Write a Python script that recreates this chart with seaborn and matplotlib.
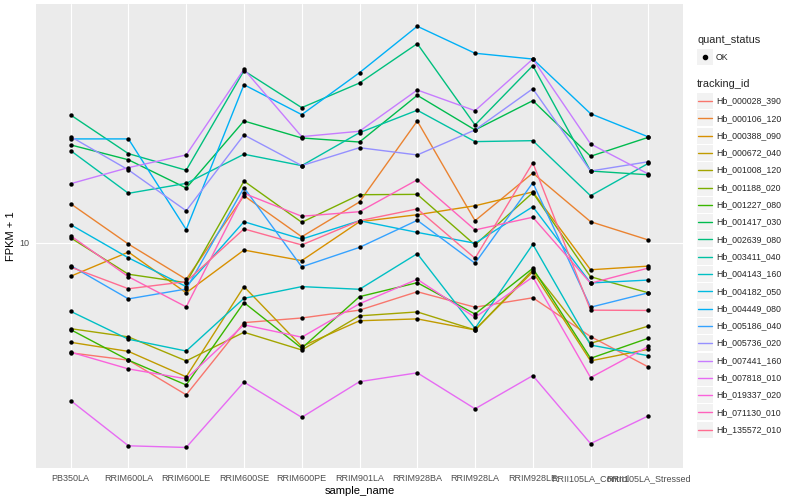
import numpy as np
import pandas as pd
import seaborn as sns
import matplotlib.pyplot as plt
from matplotlib.lines import Line2D
from matplotlib.patches import Rectangle
from matplotlib.ticker import NullLocator

samples = ["PB350LA", "RRIM600LA", "RRIM600LE", "RRIM600SE", "RRIM600PE", "RRIM901LA",
           "RRIM928BA", "RRIM928LA", "RRIM928LE", "RRII105LA_Control", "RRII105LA_Stressed"]

genes = ["Hb_000028_390", "Hb_000106_120", "Hb_000388_090", "Hb_000672_040",
         "Hb_001008_120", "Hb_001188_020", "Hb_001227_080", "Hb_001417_030",
         "Hb_002639_080", "Hb_003411_040", "Hb_004143_160", "Hb_004182_050",
         "Hb_004449_080", "Hb_005186_040", "Hb_005736_020", "Hb_007441_160",
         "Hb_007818_010", "Hb_019337_020", "Hb_071130_010", "Hb_135572_010"]

# FPKM + 1 per sample
hb_000028_390 = [6.03, 5.83, 4.97, 6.93, 7.08, 7.34, 7.99, 7.44, 7.77, 6.50, 5.65]
hb_000106_120 = [11.98, 9.95, 8.46, 12.43, 10.29, 12.08, 17.54, 11.08, 13.80, 11.03, 10.14]
hb_000388_090 = [8.58, 9.59, 7.95, 9.68, 9.22, 11.03, 11.39, 11.87, 12.65, 8.84, 8.99]
hb_000672_040 = [6.33, 6.07, 5.40, 8.18, 6.21, 6.99, 7.05, 6.70, 8.76, 5.81, 6.13]
hb_001008_120 = [6.74, 6.49, 5.81, 6.63, 6.11, 7.15, 7.28, 6.70, 8.83, 6.30, 6.82]
hb_001188_020 = [10.24, 8.66, 8.33, 13.30, 11.00, 12.49, 12.51, 9.91, 12.61, 8.56, 7.95]
hb_001227_080 = [6.71, 5.83, 5.20, 7.60, 6.16, 7.81, 8.33, 7.21, 8.90, 5.88, 6.45]
hb_001417_030 = [15.71, 14.67, 12.88, 17.54, 16.22, 15.92, 19.74, 16.83, 19.26, 14.91, 16.27]
hb_002639_080 = [18.03, 15.09, 13.98, 22.11, 18.65, 20.89, 25.04, 17.22, 22.63, 13.93, 13.69]
hb_003411_040 = [15.30, 12.57, 13.16, 15.05, 14.28, 16.62, 18.43, 15.95, 16.02, 12.43, 14.43]
hb_004143_160 = [7.30, 6.42, 6.08, 7.75, 8.18, 8.08, 9.52, 6.75, 9.94, 6.25, 5.95]
hb_004182_050 = [10.88, 9.34, 8.18, 11.03, 10.18, 11.08, 10.50, 9.99, 11.82, 8.32, 8.43]
hb_004449_080 = [16.15, 16.15, 10.64, 20.73, 18.06, 21.91, 27.13, 23.96, 23.33, 18.14, 16.30]
hb_005186_040 = [9.01, 7.73, 8.09, 12.90, 8.96, 9.80, 11.10, 9.11, 13.20, 7.44, 7.95]
hb_005736_020 = [16.32, 14.00, 11.60, 16.45, 14.28, 15.51, 15.00, 16.83, 20.35, 13.93, 14.54]
hb_007441_160 = [13.14, 14.15, 15.00, 22.26, 16.32, 16.73, 20.23, 18.39, 23.33, 15.78, 13.74]
hb_007818_010 = [4.84, 3.93, 3.90, 5.27, 4.48, 5.28, 5.50, 4.66, 5.43, 3.97, 4.51]
hb_019337_020 = [6.05, 5.60, 5.35, 6.86, 6.48, 7.56, 8.46, 7.10, 8.55, 5.38, 6.21]
hb_071130_010 = [10.34, 8.56, 7.45, 12.57, 11.31, 11.55, 13.38, 10.62, 11.26, 8.31, 8.91]
hb_135572_010 = [8.95, 8.10, 8.37, 10.67, 9.91, 11.08, 11.70, 9.32, 14.47, 7.34, 7.33]

series = [hb_000028_390, hb_000106_120, hb_000388_090, hb_000672_040, hb_001008_120,
          hb_001188_020, hb_001227_080, hb_001417_030, hb_002639_080, hb_003411_040,
          hb_004143_160, hb_004182_050, hb_004449_080, hb_005186_040, hb_005736_020,
          hb_007441_160, hb_007818_010, hb_019337_020, hb_071130_010, hb_135572_010]

# ggplot hue palette for 20 levels
hue_colors = ["#F8766D", "#EA8331", "#D89000", "#C09B00", "#A3A500", "#7CAE00", "#39B600",
              "#00BB4E", "#00BF7D", "#00C1A3", "#00BFC4", "#00BAE0", "#00B0F6", "#35A2FF",
              "#9590FF", "#C77CFF", "#E76BF3", "#FA62DB", "#FF62BC", "#FF6C91"]

rows = []
for g, vals in zip(genes, series):
    for s, v in zip(samples, vals):
        rows.append((s, g, v))
df = pd.DataFrame(rows, columns=["sample_name", "tracking_id", "fpkm"])
df["quant_status"] = "OK"

sns.set_style("darkgrid", {"axes.facecolor": "#EBEBEB", "grid.color": "white",
                           "grid.linewidth": 1.0})
plt.rcParams["font.family"] = ["Liberation Sans", "DejaVu Sans"]

W, H = 800, 500
fig = plt.figure(figsize=(8, 5), dpi=100)
ax = fig.add_axes([36 / W, 1 - 468 / H, (683 - 36) / W, (468 - 4) / H])

sns.lineplot(data=df, x="sample_name", y="fpkm", hue="tracking_id", hue_order=genes,
             palette=hue_colors, errorbar=None, sort=False, legend=False, lw=1.0, ax=ax)
sns.scatterplot(data=df, x="sample_name", y="fpkm", color="black", s=10, linewidth=0,
                legend=False, ax=ax, zorder=3)

ax.set_yscale("log")
ax.set_ylim(3.548, 30.06)
ax.set_xlim(-0.6, 10.6)
ax.set_yticks([10])
ax.set_yticklabels(["10"])
ax.yaxis.set_minor_locator(NullLocator())
for sp in ax.spines.values():
    sp.set_visible(False)
ax.tick_params(axis="both", length=3, width=0.8, color="#333333", labelsize=6.5,
               labelcolor="#4D4D4D", pad=1.5)
ax.set_xlabel("sample_name", fontsize=8, color="black", labelpad=2)
ax.set_ylabel("FPKM + 1", fontsize=8, color="black", labelpad=3)


def fx(px):
    return px / W


def fy(py):
    return 1 - py / H


# legend: quant_status
fig.text(fx(697), fy(40), "quant_status", fontsize=7.9, va="center", ha="left")
fig.add_artist(Rectangle((fx(697), fy(65)), 16 / W, 16 / H, facecolor="#F2F2F2",
                         edgecolor="none", transform=fig.transFigure))
fig.add_artist(Line2D([fx(705)], [fy(57)], marker="o", markersize=3, color="black",
                      linestyle="none", transform=fig.transFigure))
fig.text(fx(716), fy(57), "OK", fontsize=6.3, va="center", ha="left")

# legend: tracking_id
fig.text(fx(697), fy(84), "tracking_id", fontsize=7.9, va="center", ha="left")
for i, (g, c) in enumerate(zip(genes, hue_colors)):
    yc = 101 + i * 17.3
    fig.add_artist(Rectangle((fx(697), fy(yc + 8)), 16 / W, 16 / H, facecolor="#F2F2F2",
                             edgecolor="none", transform=fig.transFigure))
    fig.add_artist(Line2D([fx(698), fx(712)], [fy(yc), fy(yc)], color=c, lw=1.0,
                          transform=fig.transFigure))
    fig.text(fx(716), fy(yc), g, fontsize=6.3, va="center", ha="left")

fig.savefig("out.png", dpi=100)
